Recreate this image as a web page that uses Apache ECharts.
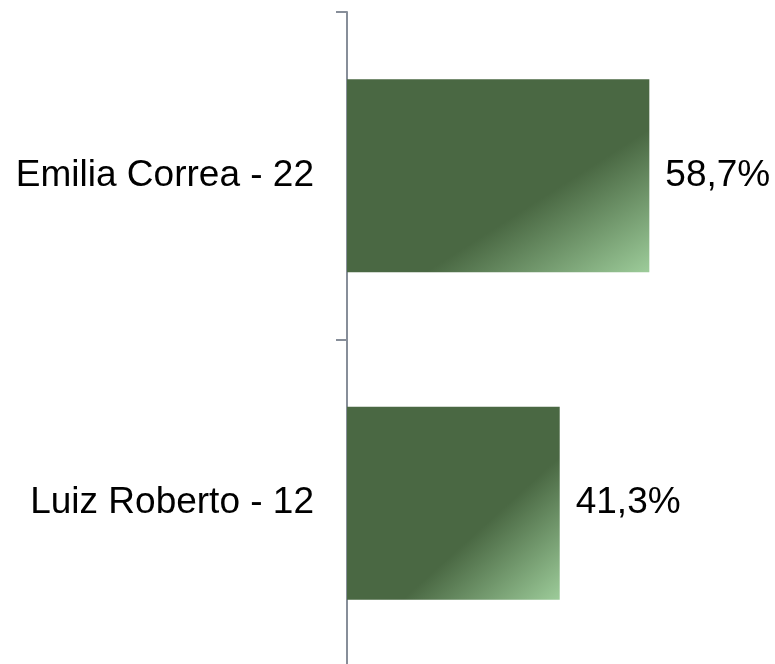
<!DOCTYPE html>
<html>
<head>
<meta charset="utf-8">
<script src="https://cdn.jsdelivr.net/npm/echarts@6/dist/echarts.min.js"></script>
<style>
    html, body { margin: 0; padding: 0; background: #fff; overflow: hidden; }
    /* o eixo continua abaixo da borda da janela, como no original */
    #chart { width: 775px; height: 680px; }
</style>
</head>
<body>
<div id="chart"></div>
<script>
// dados do grafico
var categories = ['Emilia Correa - 22', 'Luiz Roberto - 12'];
var percentages = [58.7, 41.3];

window.onload = function() {
    draw_chart();
}

// gradiente escuro -> claro com a transicao paralela a diagonal da barra
function barGradient(w, h) {
    var s = w * w + h * h;
    return new echarts.graphic.LinearGradient(0, 0, 2 * h * h / s, 2 * w * w / s, [
        { offset: 0, color: '#4a6843' },
        { offset: 0.63, color: '#4a6843' },
        { offset: 1, color: '#9dcc9a' }
    ]);
}

function draw_chart() {
    var myChart = echarts.init(document.getElementById('chart'));
    var font = 'Liberation Sans, Arial, sans-serif';
    var option = {
        animation: false,
        textStyle: { fontFamily: font },
        grid: {
            left: 347,
            top: 12,
            width: 428,
            height: 655,
            containLabel: false
        },
        xAxis: {
            type: 'value',
            min: 0,
            max: 83.1,
            show: false
        },
        yAxis: {
            type: 'category',
            inverse: true,
            data: categories,
            axisLine: { lineStyle: { color: '#878e99', width: 2 } },
            axisTick: { show: true, length: 11, lineStyle: { color: '#878e99', width: 2 } },
            axisLabel: {
                color: '#000',
                fontSize: 37,
                margin: 33,
                fontFamily: font
            }
        },
        series: [{
            type: 'bar',
            data: percentages,
            barCategoryGap: '41%',
            itemStyle: { color: '#4a6843' },
            label: {
                show: true,
                position: 'right',
                distance: 16,
                color: '#000',
                fontSize: 37,
                fontFamily: font,
                formatter: function(p) {
                    return p.value.toFixed(1).replace('.', ',') + '%';
                }
            }
        }]
    };
    myChart.setOption(option);

    // aplica o gradiente de cada barra conforme o tamanho calculado pelo echarts
    var data = myChart.getModel().getSeriesByIndex(0).getData();
    var items = percentages.map(function(v, i) {
        var l = data.getItemLayout(i);
        return { value: v, itemStyle: { color: barGradient(Math.abs(l.width), Math.abs(l.height)) } };
    });
    myChart.setOption({ series: [{ data: items }] });
}
</script>
</body>
</html>
